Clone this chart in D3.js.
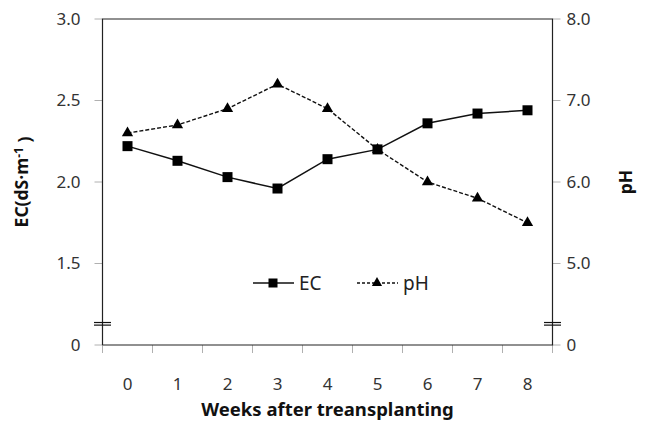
<!DOCTYPE html>
<html><head><meta charset="utf-8">
<script src="https://cdn.jsdelivr.net/npm/d3@7"></script>
<style>body{margin:0;background:#fff}svg{display:block}text{font-family:"Noto Sans","Open Sans",sans-serif}</style>
</head><body><svg id="c" width="651" height="423"></svg>
<script>
const weeks = [0,1,2,3,4,5,6,7,8];
const ecValues = [2.22,2.13,2.03,1.96,2.14,2.20,2.36,2.42,2.44];
const phValues = [6.6,6.7,6.9,7.2,6.9,6.4,6.0,5.8,5.5];
const ecTicks = [1,1.5,2,2.5,3];
const phTicks = [4,5,6,7,8];
const ecBreak = 1.13;

const svg = d3.select("#c");
const L = 102.5, R = 552.5, T = 19, B = 345;
const x = d3.scalePoint().domain(weeks).range([L,R]).padding(0.5);
const xb = d3.scaleBand().domain(weeks).range([L,R]);
const yE = d3.scaleLinear().domain([1,3]).range([B,T]);
const yP = d3.scaleLinear().domain([4,8]).range([B,T]);

const fmtE = v => v===1 ? "0" : v.toFixed(1);
const fmtP = v => v===4 ? "0" : v.toFixed(1);

const g = svg.append("g");
ecTicks.forEach(v=>{
  g.append("line").attr("x1",L-8).attr("x2",L).attr("y1",yE(v)).attr("y2",yE(v)).attr("stroke","#b0b0b0");
  g.append("text").attr("x",L-22).attr("y",yE(v)).attr("dy","0.35em").attr("text-anchor","end")
    .attr("font-size",17).attr("fill","#333").text(fmtE(v));
});
phTicks.forEach(v=>{
  g.append("line").attr("x1",R).attr("x2",R+8).attr("y1",yP(v)).attr("y2",yP(v)).attr("stroke","#b0b0b0");
  g.append("text").attr("x",R+14).attr("y",yP(v)).attr("dy","0.35em").attr("text-anchor","start")
    .attr("font-size",17).attr("fill","#333").text(fmtP(v));
});
const bounds = weeks.map(w=>xb(w)).concat([xb(8)+xb.bandwidth()]);
bounds.forEach(bx=>{
  g.append("line").attr("x1",bx).attr("x2",bx).attr("y1",B).attr("y2",B+8).attr("stroke","#b0b0b0");
});
weeks.forEach(w=>{
  g.append("text").attr("x",x(w)).attr("y",384).attr("dy","0.35em").attr("text-anchor","middle")
    .attr("font-size",17).attr("fill","#333").text(w);
});

svg.append("path").attr("d",`M${L},${B}V${T}H${R}V${B}H${L}`).attr("fill","none").attr("stroke","#222").attr("stroke-width",1.2);

[L,R].forEach(ax=>{
  [-1.3,1.3].forEach(o=>{
    svg.append("line").attr("x1",ax-8.5).attr("x2",ax+8.5)
      .attr("y1",yE(ecBreak)+o).attr("y2",yE(ecBreak)+o).attr("stroke","#111").attr("stroke-width",1.2);
  });
});

const lineE = d3.line().x((d,i)=>x(weeks[i])).y(d=>yE(d));
const lineP = d3.line().x((d,i)=>x(weeks[i])).y(d=>yP(d));
svg.append("path").attr("d",lineP(phValues)).attr("fill","none").attr("stroke","#111").attr("stroke-width",1.4).attr("stroke-dasharray","4,2");
svg.append("path").attr("d",lineE(ecValues)).attr("fill","none").attr("stroke","#111").attr("stroke-width",1.5);

const tri = d3.symbol().type(d3.symbolTriangle).size(55);
phValues.forEach((v,i)=>{
  svg.append("path").attr("d",tri()).attr("transform",`translate(${x(weeks[i])},${yP(v)})`).attr("fill","#000");
});
ecValues.forEach((v,i)=>{
  svg.append("rect").attr("x",x(weeks[i])-5).attr("y",yE(v)-5).attr("width",10).attr("height",10).attr("fill","#000");
});

const ly = 283;
svg.append("line").attr("x1",253).attr("x2",294).attr("y1",ly).attr("y2",ly).attr("stroke","#111").attr("stroke-width",1.5);
svg.append("rect").attr("x",268.5).attr("y",ly-4.5).attr("width",9).attr("height",9).attr("fill","#000");
svg.append("text").attr("x",299).attr("y",ly).attr("dy","0.36em").attr("font-size",19).attr("fill","#222").text("EC");
svg.append("line").attr("x1",357).attr("x2",398).attr("y1",ly).attr("y2",ly).attr("stroke","#111").attr("stroke-width",1.3).attr("stroke-dasharray","3,2");
svg.append("path").attr("d",d3.symbol().type(d3.symbolTriangle).size(45)()).attr("transform",`translate(377,${ly})`).attr("fill","#000");
svg.append("text").attr("x",403).attr("y",ly).attr("dy","0.36em").attr("font-size",19).attr("fill","#222").text("pH");

svg.append("text").attr("x",(L+R)/2).attr("y",410).attr("dy","0.35em").attr("text-anchor","middle")
  .attr("font-size",18.5).attr("font-weight","bold").attr("fill","#111").text("Weeks after treansplanting");
const yt = svg.append("text").attr("transform","translate(22,182) rotate(-90)").attr("text-anchor","middle")
  .attr("dy","0.35em").attr("font-size",17.5).attr("font-weight","bold").attr("fill","#111");
yt.append("tspan").text("EC(dS·m");
yt.append("tspan").attr("dy","-0.45em").attr("font-size",12).text("-1");
yt.append("tspan").attr("dy","0.45em").text(" )");
svg.append("text").attr("transform","translate(626,182) rotate(-90)").attr("text-anchor","middle")
  .attr("dy","0.35em").attr("font-size",17.5).attr("font-weight","bold").attr("fill","#111").text("pH");
</script></body></html>
